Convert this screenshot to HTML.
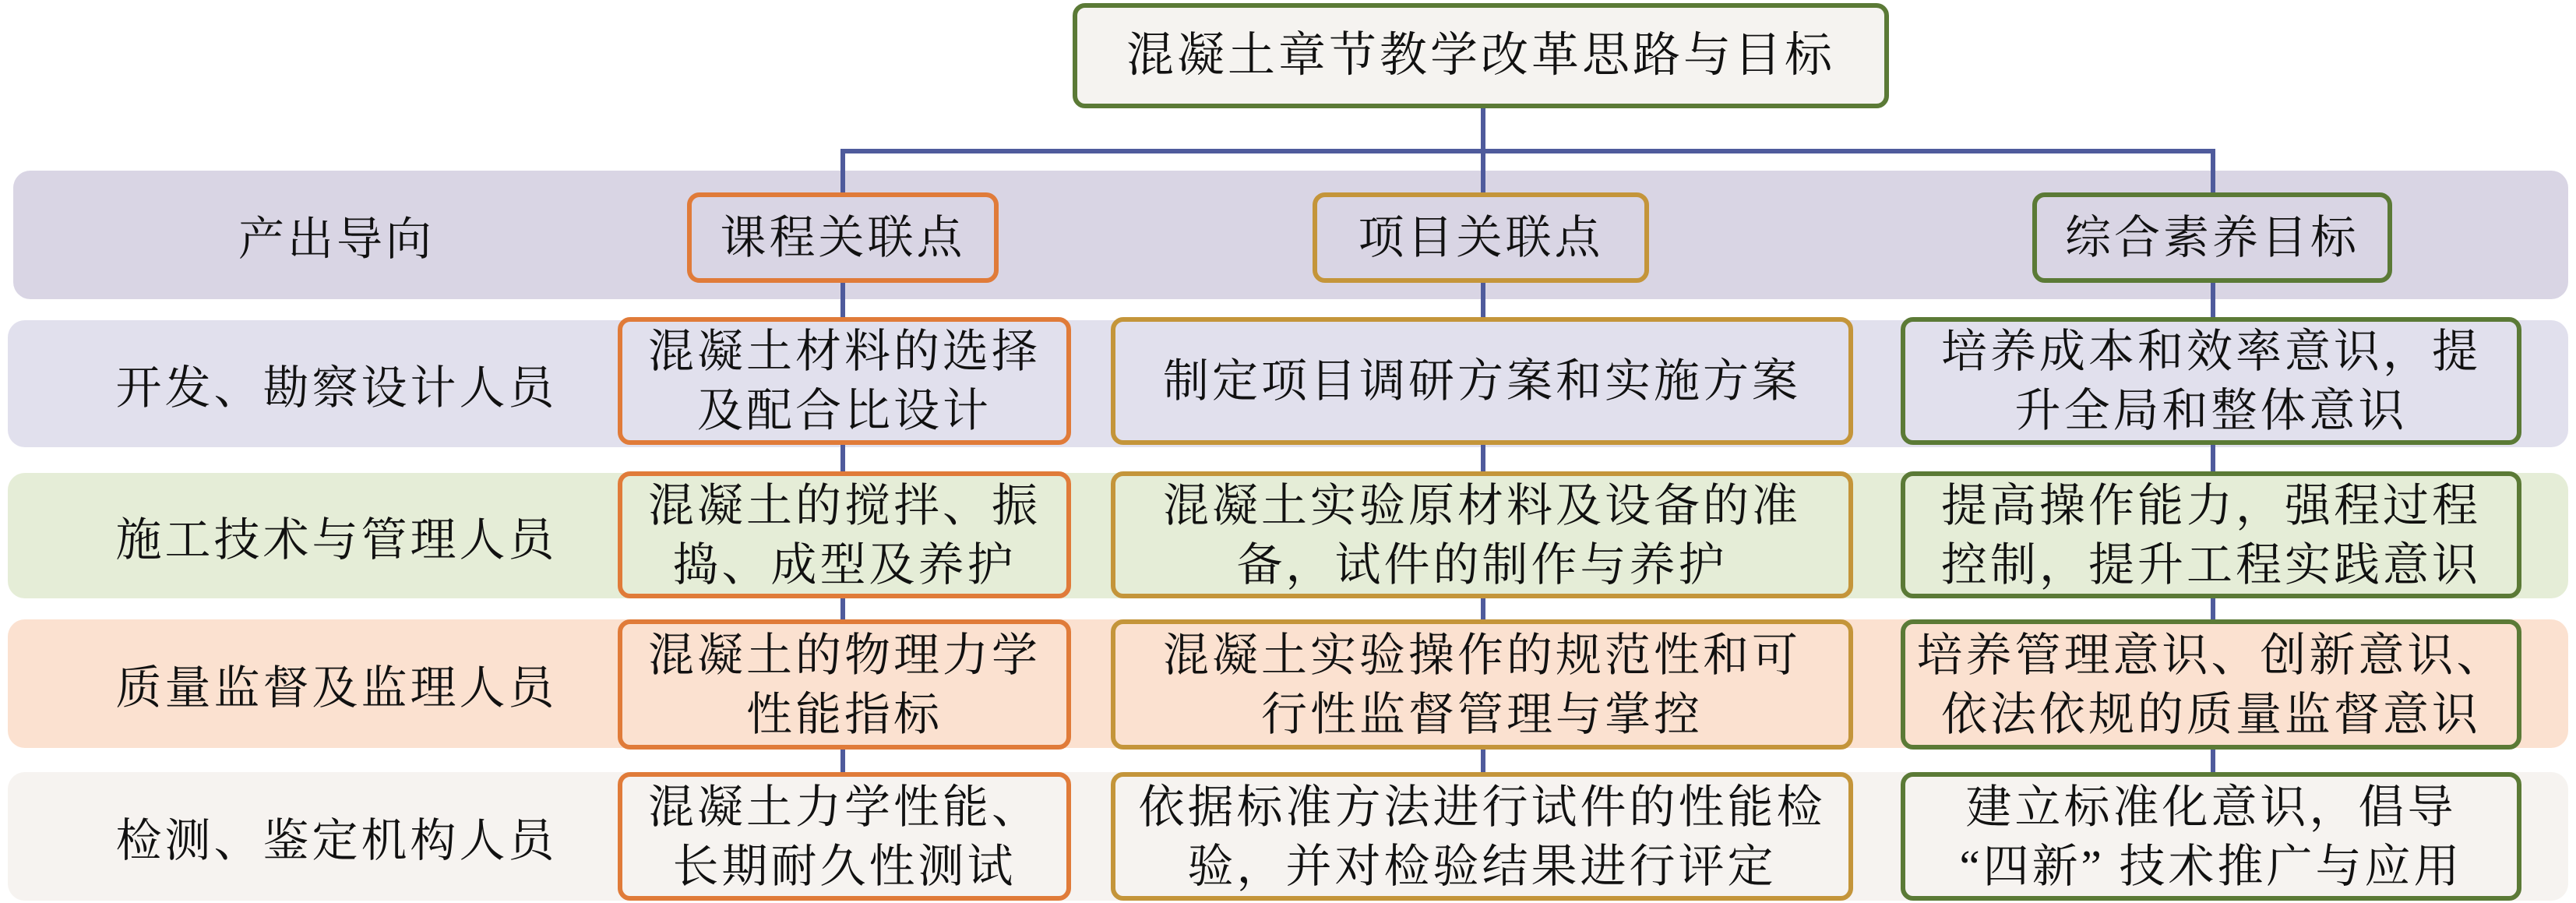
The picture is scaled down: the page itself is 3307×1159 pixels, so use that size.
<!DOCTYPE html>
<html><head><meta charset="utf-8"><style>
body{margin:0;width:3307px;height:1159px;background:#fff;position:relative;overflow:hidden;font-family:"Liberation Serif","Noto Serif CJK SC",serif;color:#111}
.a{position:absolute;box-sizing:border-box}
.band{border-radius:22px}
.box{border:6px solid;border-radius:16px;display:flex;align-items:center;justify-content:center;text-align:center;font-size:59px;letter-spacing:4px;line-height:76px}
.o{border-color:#e07b39}.g{border-color:#c4953a}.n{border-color:#5b7a36}
.lab{display:flex;align-items:center;justify-content:center;font-size:59px;letter-spacing:4px;left:17px;width:830px}
.l{background:#4f5b9c}
</style></head><body>
<div class="a band" style="left:17px;top:219px;width:3280px;height:165px;background:#d9d5e4"></div>
<div class="a band" style="left:10px;top:411px;width:3287px;height:163px;background:#e1e0ed"></div>
<div class="a band" style="left:10px;top:607px;width:3287px;height:161px;background:#e5edd7"></div>
<div class="a band" style="left:10px;top:795px;width:3287px;height:165px;background:#fbe1d0"></div>
<div class="a band" style="left:10px;top:991px;width:3287px;height:165px;background:#f6f3f0"></div>

<div class="a l" style="left:1079px;top:191px;width:1765px;height:6px"></div>
<div class="a l" style="left:1901px;top:139px;width:6px;height:58px"></div>
<div class="a l" style="left:1079px;top:191px;width:6px;height:960px"></div>
<div class="a l" style="left:1901px;top:191px;width:6px;height:960px"></div>
<div class="a l" style="left:2838px;top:191px;width:6px;height:960px"></div>

<div class="a box n" style="left:1377px;top:4px;width:1048px;height:135px;background:#f5f3f0;font-size:61px">混凝土章节教学改革思路与目标</div>

<div class="a lab" style="top:219px;height:165px">产出导向</div>
<div class="a lab" style="top:411px;height:163px">开发、勘察设计人员</div>
<div class="a lab" style="top:607px;height:161px">施工技术与管理人员</div>
<div class="a lab" style="top:795px;height:165px">质量监督及监理人员</div>
<div class="a lab" style="top:991px;height:165px">检测、鉴定机构人员</div>

<div class="a box o" style="left:882px;top:247px;width:400px;height:116px;background:#d9d5e4">课程关联点</div>
<div class="a box g" style="left:1685px;top:247px;width:432px;height:116px;background:#d9d5e4">项目关联点</div>
<div class="a box n" style="left:2609px;top:247px;width:462px;height:116px;background:#d9d5e4">综合素养目标</div>

<div class="a box o" style="left:793px;top:407px;width:582px;height:164px;background:#e1e0ed">混凝土材料的选择<br>及配合比设计</div>
<div class="a box g" style="left:1426px;top:407px;width:953px;height:164px;background:#e1e0ed">制定项目调研方案和实施方案</div>
<div class="a box n" style="left:2440px;top:407px;width:797px;height:164px;background:#e1e0ed">培养成本和效率意识，提<br>升全局和整体意识</div>

<div class="a box o" style="left:793px;top:605px;width:582px;height:163px;background:#e5edd7">混凝土的搅拌、振<br>捣、成型及养护</div>
<div class="a box g" style="left:1426px;top:605px;width:953px;height:163px;background:#e5edd7">混凝土实验原材料及设备的准<br>备，试件的制作与养护</div>
<div class="a box n" style="left:2440px;top:605px;width:797px;height:163px;background:#e5edd7">提高操作能力，强程过程<br>控制，提升工程实践意识</div>

<div class="a box o" style="left:793px;top:795px;width:582px;height:167px;background:#fbe1d0">混凝土的物理力学<br>性能指标</div>
<div class="a box g" style="left:1426px;top:795px;width:953px;height:167px;background:#fbe1d0">混凝土实验操作的规范性和可<br>行性监督管理与掌控</div>
<div class="a box n" style="left:2440px;top:795px;width:797px;height:167px;background:#fbe1d0">培养管理意识、创新意识、<br>依法依规的质量监督意识</div>

<div class="a box o" style="left:793px;top:991px;width:582px;height:165px;background:#f6f3f0">混凝土力学性能、<br>长期耐久性测试</div>
<div class="a box g" style="left:1426px;top:991px;width:953px;height:165px;background:#f6f3f0">依据标准方法进行试件的性能检<br>验，并对检验结果进行评定</div>
<div class="a box n" style="left:2440px;top:991px;width:797px;height:165px;background:#f6f3f0">建立标准化意识，倡导<br>“四新” 技术推广与应用</div>
</body></html>
